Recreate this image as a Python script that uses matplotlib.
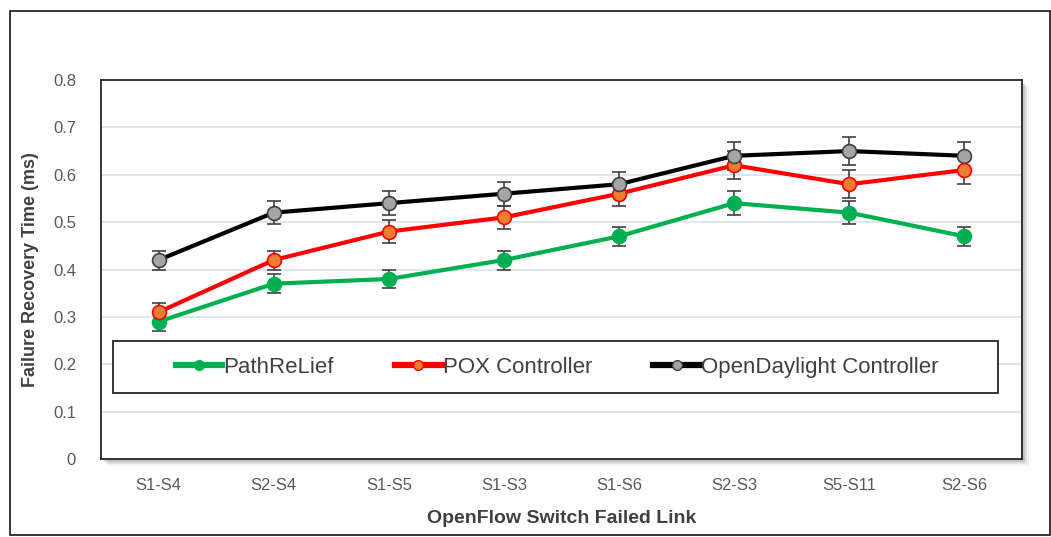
import matplotlib
matplotlib.use("Agg")
import matplotlib.pyplot as plt
from matplotlib.patches import Rectangle
from matplotlib.lines import Line2D

links = ["S1-S4", "S2-S4", "S1-S5", "S1-S3", "S1-S6", "S2-S3", "S5-S11", "S2-S6"]

pathrelief = [0.29, 0.37, 0.38, 0.42, 0.47, 0.54, 0.52, 0.47]
pathrelief_err = [0.02, 0.02, 0.02, 0.02, 0.02, 0.025, 0.025, 0.02]
pox = [0.31, 0.42, 0.48, 0.51, 0.56, 0.62, 0.58, 0.61]
pox_err = [0.02, 0.02, 0.025, 0.025, 0.025, 0.03, 0.03, 0.03]
odl = [0.42, 0.52, 0.54, 0.56, 0.58, 0.64, 0.65, 0.64]
odl_err = [0.02, 0.025, 0.025, 0.025, 0.025, 0.03, 0.03, 0.03]

series = [
    ("PathReLief", pathrelief, pathrelief_err, "#00B050", "#00B050", "#00B050"),
    ("POX Controller", pox, pox_err, "#FF0000", "#ED7D31", "#FF0000"),
    ("OpenDaylight Controller", odl, odl_err, "#000000", "#A5A5A5", "#404040"),
]

plt.rcParams["font.family"] = ["Liberation Sans", "DejaVu Sans"]

fig = plt.figure(figsize=(10.51, 5.37), dpi=100)
W, H = 1051, 537

# outer frame
fig.patches.append(Rectangle((10 / W, 2 / H), 1040 / W, 524 / H, transform=fig.transFigure,
                             fill=False, edgecolor="#262626", linewidth=1.3, zorder=0))

# soft drop shadow behind the plot area
for off, a in [(7, 0.05), (5, 0.08), (3, 0.12)]:
    fig.patches.append(Rectangle(((101 + off) / W, (H - 459 - off) / H), 921 / W, 379 / H,
                                 transform=fig.transFigure, facecolor="#000000", alpha=a,
                                 edgecolor="none", zorder=0))

ax = fig.add_axes([101 / W, (H - 459) / H, 921 / W, 379 / H])
ax.set_zorder(2)
ax.set_facecolor("white")

x = list(range(len(links)))
for name, vals, err, lc, mfc, mec in series:
    ax.errorbar(x, vals, yerr=err, color=lc, linewidth=3, marker="o", markersize=10,
                markerfacecolor=mfc, markeredgecolor=mec, markeredgewidth=1.2,
                ecolor="#404040", elinewidth=1.2, capsize=5, capthick=1.2, zorder=3)

ax.set_xlim(-0.5, len(links) - 0.5)
ax.set_ylim(0, 0.8)
ax.set_yticks([0, 0.1, 0.2, 0.3, 0.4, 0.5, 0.6, 0.7, 0.8])
ax.set_yticklabels(["0", "0.1", "0.2", "0.3", "0.4", "0.5", "0.6", "0.7", "0.8"])
ax.set_xticks(x)
ax.set_xticklabels(links)
ax.grid(axis="y", color="#D6E2F2", linewidth=1.2)
ax.set_axisbelow(True)
ax.tick_params(length=0, labelsize=12, colors="#595959")
ax.tick_params(axis="x", pad=14)
ax.tick_params(axis="y", pad=18)
for s in ax.spines.values():
    s.set_color("#262626")
    s.set_linewidth(1.3)

ax.set_ylabel("Failure Recovery Time (ms)", fontsize=13, fontweight="bold",
              color="#404040", labelpad=10)
ax.set_xlabel("OpenFlow Switch Failed Link", fontsize=14, fontweight="bold",
              color="#404040", labelpad=12)

# legend box spans most of the plot width, entries packed to the left
ax.add_patch(Rectangle((0.013, 0.174), 0.961, 0.137, transform=ax.transAxes,
                       facecolor="white", edgecolor="#262626", linewidth=1.3, zorder=4))
handles = [Line2D([], [], color=lc, linewidth=4.5, marker="o", markersize=7,
                  markerfacecolor=mfc, markeredgecolor=mec)
           for name, vals, err, lc, mfc, mec in series]
leg = ax.legend(handles, [s[0] for s in series], loc="center left",
                bbox_to_anchor=(0.081, 0.2425), ncol=3, frameon=False,
                fontsize=16, handlelength=2.1, handletextpad=0.05,
                columnspacing=2.75, borderaxespad=0, borderpad=0)
leg.set_zorder(5)
for t in leg.get_texts():
    t.set_color("#404040")

fig.savefig("out.png", dpi=100, facecolor="white")
